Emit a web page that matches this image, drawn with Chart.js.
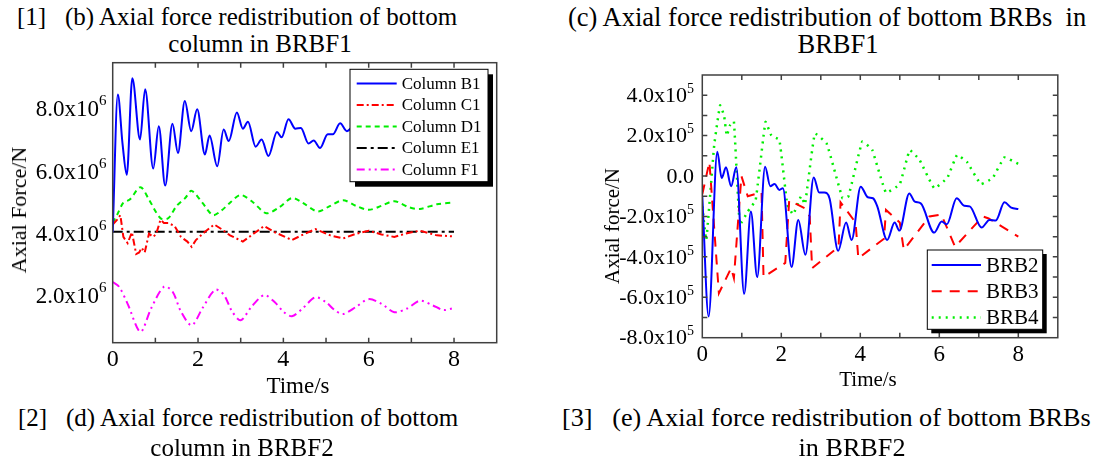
<!DOCTYPE html>
<html>
<head>
<meta charset="utf-8">
<script src="https://cdn.jsdelivr.net/npm/chart.js@4.4.1/dist/chart.umd.min.js"></script>
<style>
  html, body { margin: 0; padding: 0; background: #fff; }
  body { width: 1097px; height: 467px; position: relative; overflow: hidden;
         font-family: "Liberation Serif", "Times New Roman", serif; color: #000; }
  .box { position: absolute; }
  .cap { position: absolute; white-space: pre; font-size: 25px; line-height: 28px; }
  .mid { transform: translateX(-50%); }
  .ttl { position: absolute; white-space: pre; line-height: 26px; transform: translate(-50%, -50%); }
  .rot { transform: translate(-50%, -50%) rotate(-90deg); }
</style>
</head>
<body>

<div class="cap" style="left:17px;top:3px">[1]   (b) Axial force redistribution of bottom</div>
<div class="cap mid" style="left:260px;top:30px">column in BRBF1</div>
<div class="cap" style="left:568px;top:3px;font-size:26.5px">(c) Axial force redistribution of bottom BRBs  in</div>
<div class="cap mid" style="left:838px;top:30px;font-size:26.5px">BRBF1</div>

<div class="box" style="left:0;top:50px;width:560px;height:350px"><canvas id="colChart"></canvas></div>
<div class="box" style="left:560px;top:50px;width:537px;height:350px"><canvas id="brbChart"></canvas></div>

<div class="ttl rot" style="left:19px;top:210px;font-size:22px">Axial Force/N</div>
<div class="ttl" style="left:298px;top:386px;font-size:23px">Time/s</div>
<div class="ttl rot" style="left:612px;top:226px;font-size:21px">Axial force/N</div>
<div class="ttl" style="left:868px;top:379px;font-size:21px">Time/s</div>

<div class="cap" style="left:18px;top:404px">[2]   (d) Axial force redistribution of bottom</div>
<div class="cap mid" style="left:242px;top:434px">column in BRBF2</div>
<div class="cap" style="left:562px;top:404px;font-size:26.2px">[3]   (e) Axial force redistribution of bottom BRBs</div>
<div class="cap mid" style="left:852px;top:434px;font-size:26.2px">in BRBF2</div>

<script>
// =======================
// DATA (b) columns, BRBF1 – force in 10^6 N
// =======================
const b1Time  = [0, 0.12, 0.23, 0.33, 0.46, 0.64, 0.76, 0.95, 1.08, 1.23, 1.40, 1.53, 1.69, 1.84, 1.98, 2.16, 2.27, 2.45, 2.60, 2.72, 2.91, 3.05, 3.17, 3.35, 3.49, 3.65, 3.85, 3.96, 4.12, 4.28, 4.41, 4.59, 4.71, 4.86, 5.04, 5.16, 5.33, 5.49, 5.65, 5.82, 6.0, 6.2, 6.4, 6.6, 6.8, 7.0, 7.2, 7.4, 7.6, 7.8, 8.0];
const b1Force = [4.05, 8.48, 6.9, 5.9, 9.0, 7.03, 8.65, 6.1, 7.46, 5.55, 7.54, 6.6, 8.27, 7.3, 8.0, 6.55, 7.16, 6.17, 7.35, 6.98, 7.9, 7.38, 7.6, 6.8, 7.03, 6.5, 7.27, 7.1, 7.68, 7.38, 7.4, 6.9, 7.0, 6.76, 7.2, 7.2, 7.55, 7.3, 7.45, 7.1, 7.35, 7.15, 7.4, 7.1, 7.3, 7.15, 7.35, 7.15, 7.3, 7.2, 7.25];

const c1Time  = [0, 0.1, 0.18, 0.25, 0.35, 0.45, 0.55, 0.62, 0.68, 0.75, 0.85, 0.95, 1.02, 1.12, 1.2, 1.3, 1.45, 1.6, 1.75, 1.85, 1.95, 2.15, 2.38, 2.55, 2.75, 3.05, 3.3, 3.55, 3.8, 4.2, 4.5, 4.75, 5.1, 5.4, 5.7, 6.0, 6.3, 6.6, 6.9, 7.2, 7.6, 7.95];
const c1Force = [4.3, 4.45, 4.6, 3.9, 3.7, 4.05, 3.35, 3.4, 3.55, 3.4, 4.0, 3.9, 4.0, 4.45, 4.35, 4.35, 4.25, 3.9, 3.75, 3.58, 3.8, 4.05, 4.3, 4.15, 3.95, 3.75, 4.0, 4.25, 4.05, 3.8, 4.0, 4.15, 3.95, 3.85, 4.0, 4.1, 3.98, 3.9, 4.02, 4.1, 3.95, 3.92];

const d1Time  = [0, 0.1, 0.25, 0.4, 0.65, 0.85, 1.12, 1.3, 1.5, 1.7, 1.85, 2.1, 2.35, 2.55, 2.75, 3.0, 3.3, 3.6, 3.9, 4.2, 4.45, 4.8, 5.1, 5.4, 5.7, 6.0, 6.3, 6.6, 6.95, 7.2, 7.6, 7.95];
const d1Force = [4.35, 4.6, 5.0, 5.1, 5.5, 5.1, 4.5, 4.5, 4.9, 5.15, 5.38, 5.0, 4.6, 4.75, 5.0, 5.25, 5.0, 4.66, 4.85, 5.15, 5.0, 4.72, 4.9, 5.08, 4.9, 4.77, 4.9, 5.05, 4.85, 4.8, 4.95, 5.0];

const e1Time  = [0, 1, 2, 3, 4, 5, 6, 7, 8];
const e1Force = [4.07, 4.07, 4.07, 4.07, 4.07, 4.07, 4.07, 4.07, 4.07];

const f1Time  = [0, 0.15, 0.35, 0.65, 0.9, 1.2, 1.4, 1.6, 1.85, 2.1, 2.4, 2.6, 2.8, 3.0, 3.25, 3.55, 3.8, 4.0, 4.2, 4.45, 4.75, 5.0, 5.2, 5.4, 5.7, 6.0, 6.3, 6.6, 6.9, 7.2, 7.5, 7.75, 7.95];
const f1Force = [2.45, 2.3, 1.75, 0.85, 1.6, 2.3, 2.15, 1.5, 1.06, 1.6, 2.2, 2.05, 1.5, 1.22, 1.65, 2.03, 1.8, 1.5, 1.35, 1.6, 1.96, 1.8, 1.55, 1.42, 1.65, 1.9, 1.75, 1.48, 1.6, 1.85, 1.7, 1.55, 1.6];

// =======================
// DATA (c) BRBs, BRBF1 – force in 10^5 N
// =======================
const brb2Time  = [0, 0.16, 0.38, 0.49, 0.6, 0.73, 0.86, 1.06, 1.23, 1.39, 1.59, 1.72, 1.83, 1.95, 2.04, 2.26, 2.43, 2.61, 2.82, 2.96, 3.09, 3.22, 3.44, 3.64, 3.78, 4.01, 4.19, 4.32, 4.43, 4.68, 4.87, 4.99, 5.24, 5.38, 5.53, 5.87, 6.06, 6.19, 6.44, 6.63, 6.77, 7.07, 7.27, 7.43, 7.65, 7.82, 8.0];
const brb2Force = [-1.0, -6.95, 1.2, -0.1, 0.43, -0.5, 0.43, -5.83, -1.76, -5.0, 0.46, -0.5, -0.4, -0.69, -0.6, -4.5, -2.17, -3.9, -0.07, -0.82, -0.82, -1.1, -3.7, -2.3, -3.16, -0.53, -1.05, -1.1, -1.5, -3.16, -2.3, -2.7, -0.86, -1.27, -1.35, -2.8, -2.25, -2.39, -1.1, -1.47, -1.5, -2.55, -2.17, -2.2, -1.3, -1.56, -1.63];

const brb3Time  = [0, 0.18, 0.42, 0.73, 0.8, 0.99, 1.15, 1.5, 1.55, 2.1, 2.2, 2.6, 2.72, 2.78, 3.45, 3.5, 3.88, 3.95, 4.6, 4.65, 5.0, 5.1, 5.75, 6.05, 6.4, 7.1, 7.25, 8.0];
const brb3Force = [-0.9, 0.7, -5.8, -4.55, -5.05, 0.0, -1.0, -0.8, -5.0, -4.3, -1.2, -1.6, -2.0, -4.56, -3.5, -1.3, -2.3, -4.07, -3.1, -1.68, -2.3, -3.65, -2.0, -1.9, -3.5, -2.0, -2.1, -3.0];

const brb4Time  = [0, 0.1, 0.3, 0.45, 0.55, 0.62, 0.7, 0.8, 0.95, 1.15, 1.35, 1.6, 1.75, 1.95, 2.15, 2.3, 2.5, 2.6, 2.85, 3.15, 3.55, 3.7, 4.05, 4.3, 4.65, 5.0, 5.25, 5.5, 5.87, 6.2, 6.45, 6.7, 7.05, 7.35, 7.65, 8.0];
const brb4Force = [-1.5, -3.16, 1.5, 3.5, 3.0, 2.0, 2.5, 2.7, -2.4, -1.76, -1.2, 2.68, 2.0, 1.8, -1.4, -1.9, -1.0, -1.4, 2.1, 1.6, -1.1, -1.0, 1.7, 1.3, -0.82, -0.4, 1.28, 0.8, -0.6, -0.1, 1.04, 0.7, -0.4, -0.1, 0.92, 0.6];

// =======================
// TICK LABELS
// =======================
const xTickLabels = [0, 2, 4, 6, 8];

const colYTickVals = [2, 4, 6, 8];
const colYTickText = ["2.0x10", "4.0x10", "6.0x10", "8.0x10"];
const colYTickExp  = ["6", "6", "6", "6"];

const brbYTickVals = [4, 2, 0, -2, -4, -6, -8];
const brbYTickText = ["4.0x10", "2.0x10", "0.0", "-2.0x10", "-4.0x10", "-6.0x10", "-8.0x10"];
const brbYTickExp  = ["5", "5", "", "5", "5", "5", "5"];

const SERIF = "'Liberation Serif', 'Times New Roman', serif";

// =======================
// HELPERS
// =======================
function series(label, times, forces, style) {
  return Object.assign({
    label,
    data: times.map((t, i) => ({ x: t, y: forces[i] })),
    pointRadius: 0,
    borderWidth: 2,
    fill: false
  }, style);
}

// frame with inward ticks, y labels with exponent, boxed legend with shadow
const plotFrame = {
  id: "plotFrame",
  afterDatasetsDraw(chart, args, o) {
    const { ctx, chartArea: a } = chart;
    const xs = chart.scales.x, ys = chart.scales.y;
    ctx.save();

    ctx.strokeStyle = "#404040";
    ctx.lineWidth = 1.5;
    ctx.setLineDash([]);
    ctx.strokeRect(a.left, a.top, a.right - a.left, a.bottom - a.top);
    ctx.beginPath();
    xs.ticks.forEach(t => {
      if (t.value <= xs.min || t.value >= xs.max) return;
      const px = xs.getPixelForValue(t.value);
      ctx.moveTo(px, a.bottom); ctx.lineTo(px, a.bottom - 5);
      ctx.moveTo(px, a.top); ctx.lineTo(px, a.top + 5);
    });
    ys.ticks.forEach(t => {
      if (t.value <= ys.min || t.value >= ys.max || !Number.isInteger(t.value)) return;
      const py = ys.getPixelForValue(t.value);
      ctx.moveTo(a.left, py); ctx.lineTo(a.left + 5, py);
      ctx.moveTo(a.right, py); ctx.lineTo(a.right - 5, py);
    });
    ctx.stroke();

    // y tick labels
    ctx.fillStyle = "#000";
    ctx.textBaseline = "middle";
    o.yVals.forEach((v, i) => {
      const py = ys.getPixelForValue(v);
      const exp = o.yExp[i];
      ctx.font = o.expSize + "px " + SERIF;
      const ew = exp ? ctx.measureText(exp).width : 0;
      if (exp) {
        ctx.textAlign = "left";
        ctx.fillText(exp, o.labelRight - ew, py - o.raise);
      }
      ctx.font = o.baseSize + "px " + SERIF;
      ctx.textAlign = "right";
      ctx.fillText(o.yText[i], o.labelRight - ew, py + 1);
    });

    // legend
    const L = o.legend;
    ctx.fillStyle = "#000";
    ctx.fillRect(L.x + L.shadow, L.y + L.shadow, L.w, L.h);
    ctx.fillStyle = "#fff";
    ctx.fillRect(L.x, L.y, L.w, L.h);
    ctx.strokeStyle = "#000";
    ctx.lineWidth = 1;
    ctx.strokeRect(L.x, L.y, L.w, L.h);
    ctx.font = L.size + "px " + SERIF;
    ctx.textAlign = "left";
    chart.data.datasets.forEach((ds, i) => {
      const ry = L.row0 + i * L.step;
      ctx.strokeStyle = ds.borderColor;
      ctx.lineWidth = ds.borderWidth;
      ctx.setLineDash(ds.borderDash || []);
      ctx.beginPath();
      ctx.moveTo(L.s0, ry); ctx.lineTo(L.s1, ry);
      ctx.stroke();
      ctx.fillStyle = "#000";
      ctx.fillText(ds.label, L.tx, ry + 1);
    });
    ctx.restore();
  }
};

function buildChart(id, datasets, o) {
  return new Chart(document.getElementById(id), {
    type: "line",
    data: { datasets },
    options: {
      responsive: true,
      maintainAspectRatio: false,
      animation: false,
      layout: { padding: { top: o.padTop, right: o.padRight, left: 0, bottom: 0 } },
      plugins: {
        legend: { display: false },
        tooltip: { enabled: false },
        plotFrame: o.frame
      },
      scales: {
        x: {
          type: "linear",
          min: 0,
          max: 9,
          afterFit: s => { s.height = o.xHeight; },
          grid: { display: false, drawTicks: false },
          border: { display: false },
          ticks: {
            stepSize: 1,
            autoSkip: false,
            maxRotation: 0,
            padding: 3,
            color: "#000",
            font: { family: SERIF, size: o.xFont },
            callback: v => xTickLabels.includes(v) ? String(v) : ""
          }
        },
        y: {
          min: o.yMin,
          max: o.yMax,
          afterFit: s => { s.width = o.yWidth; },
          grid: { display: false, drawTicks: false },
          border: { display: false },
          ticks: { stepSize: 1, display: false }
        }
      }
    },
    plugins: [plotFrame]
  });
}

// =======================
// CHARTS
// =======================
function drawAll() {
  Chart.defaults.font.family = SERIF;

  buildChart("colChart", [
    series("Column B1", b1Time, b1Force, { borderColor: "#0000ff", cubicInterpolationMode: "monotone" }),
    series("Column C1", c1Time, c1Force, { borderColor: "#ff0000", borderDash: [7, 3, 2, 3] }),
    series("Column D1", d1Time, d1Force, { borderColor: "#00ee00", borderDash: [5, 4], tension: 0.3 }),
    series("Column E1", e1Time, e1Force, { borderColor: "#000000", borderDash: [10, 4, 3, 4] }),
    series("Column F1", f1Time, f1Force, { borderColor: "#ff00ff", borderDash: [8, 4, 2, 4, 2, 4], tension: 0.3 })
  ], {
    padTop: 12.7, padRight: 63.3, yWidth: 112.7, xHeight: 57.3,
    yMin: 0.5, yMax: 9.5, xFont: 24,
    frame: {
      yVals: colYTickVals, yText: colYTickText, yExp: colYTickExp,
      labelRight: 106.5, raise: 8, baseSize: 23, expSize: 15,
      legend: { x: 350, y: 19.3, w: 138, h: 112.4, shadow: 5,
                row0: 33.5, step: 21.5, s0: 356.7, s1: 396.7, tx: 401.7, size: 17 }
    }
  });

  buildChart("brbChart", [
    series("BRB2", brb2Time, brb2Force, { borderColor: "#0000ff", cubicInterpolationMode: "monotone" }),
    series("BRB3", brb3Time, brb3Force, { borderColor: "#ff0000", borderDash: [10, 8] }),
    series("BRB4", brb4Time, brb4Force, { borderColor: "#00ee00", borderWidth: 2.5, borderDash: [2, 5], tension: 0.1 })
  ], {
    padTop: 25, padRight: 39.2, yWidth: 142.3, xHeight: 62.3,
    yMin: -8, yMax: 5, xFont: 23,
    frame: {
      yVals: brbYTickVals, yText: brbYTickText, yExp: brbYTickExp,
      labelRight: 134, raise: 6, baseSize: 22, expSize: 14,
      legend: { x: 367.3, y: 200, w: 115.4, h: 79.3, shadow: 4,
                row0: 215, step: 26.2, s0: 371.7, s1: 421, tx: 426, size: 21 }
    }
  });
}

window.addEventListener("DOMContentLoaded", () => {
  document.fonts.load("20px 'Liberation Serif'").then(drawAll, drawAll);
});
</script>
</body>
</html>
